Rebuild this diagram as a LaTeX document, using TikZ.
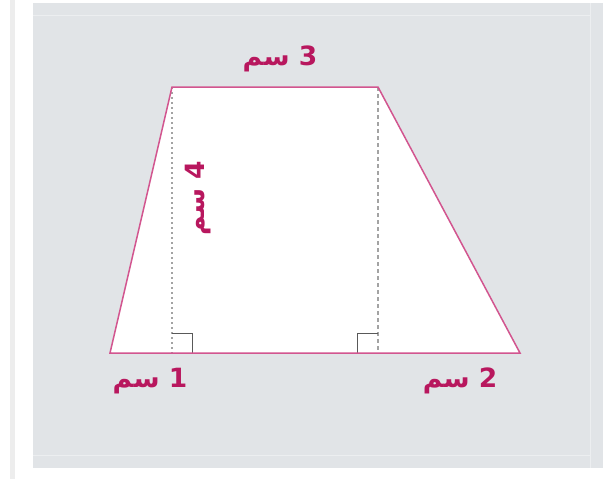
\documentclass[tikz,border=0pt]{standalone}
\usepackage{fontspec}
\newfontfamily\arabicfont[Script=Arabic]{DejaVu Sans}
\TeXXeTstate=1
\definecolor{panelgray}{HTML}{E1E4E7}
\definecolor{panelline}{HTML}{ECEEF0}
\definecolor{edgepink}{HTML}{D2558F}
\definecolor{labelmag}{HTML}{B8175E}
\definecolor{helpgray}{HTML}{A3A3A3}
\tikzset{
  edgeline/.style={draw=edgepink, line width=1.5pt, line join=miter},
  heightline/.style={draw=helpgray, line width=1.5pt},
  anglemark/.style={draw=black!65, line width=0.9pt},
  measure/.style={text=labelmag, font=\arabicfont\bfseries\fontsize{26.5}{30}\selectfont, inner sep=0pt}
}
\begin{document}
\begin{tikzpicture}[x=1pt,y=-1pt]
\useasboundingbox (0,0) rectangle (603,479);
% page and panel
\fill[white] (0,0) rectangle (603,479);
\fill[black!7] (10,0) rectangle (15,479);
\fill[panelgray] (33,3) rectangle (603,468);
\draw[panelline, line width=1pt] (33,15) -- (590,15);
\draw[panelline, line width=1pt] (33,455) -- (590,455);
\draw[panelline, line width=1pt] (590,3) -- (590,468);
% vertices
\coordinate (TL) at (172,87);
\coordinate (TR) at (378,87);
\coordinate (BR) at (520,353);
\coordinate (BL) at (110,353);
\coordinate (FL) at (172,353);
\coordinate (FR) at (378,353);
% trapezoid
\fill[white] (TL) -- (TR) -- (BR) -- (BL) -- cycle;
% heights
\draw[heightline, dash pattern=on 2pt off 3pt] (TL) -- (FL);
\draw[heightline, dash pattern=on 4pt off 3pt] (TR) -- (FR);
% right angle marks
\draw[anglemark] (FL) ++(0,-20) -- ++(20,0) -- ++(0,20);
\draw[anglemark] (FR) ++(0,-20) -- ++(-21,0) -- ++(0,20);
% edges
\draw[edgeline] (TL) -- (TR) -- (BR) -- (BL) -- cycle;
% labels
\node[measure] (top) at (280,59) {\beginR 3 سم\endR};
\node[measure, rotate=90] (side) at (198,198) {\beginR 4 سم\endR};
\node[measure] (bl) at (150,381) {\beginR 1 سم\endR};
\node[measure] (br) at (460,381) {\beginR 2 سم\endR};
\end{tikzpicture}
\end{document}
